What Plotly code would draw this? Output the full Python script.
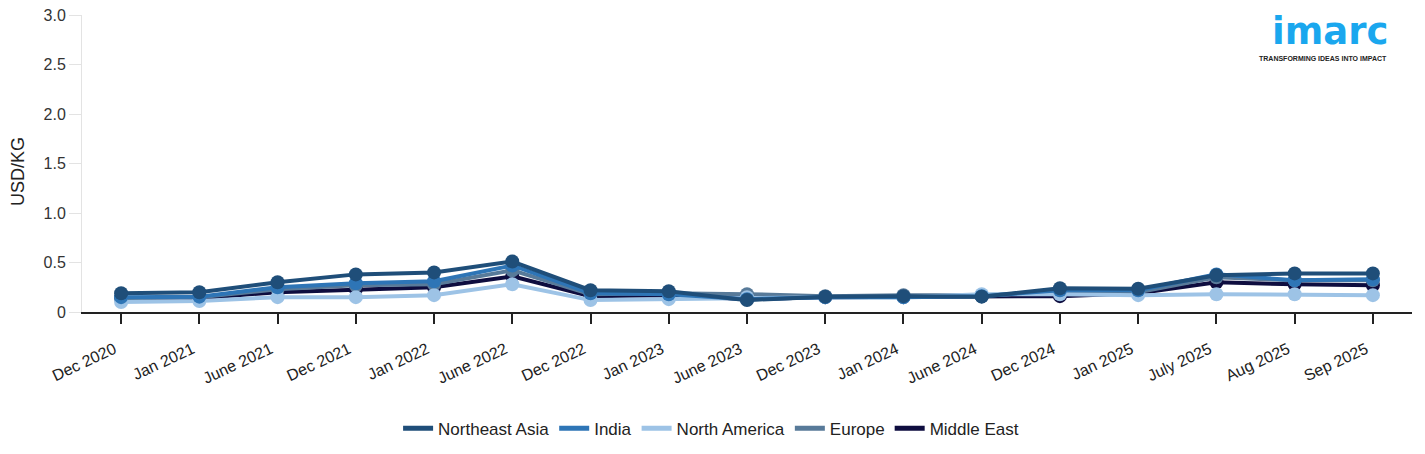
import plotly.graph_objects as go

categories = ["Dec 2020", "Jan 2021", "June 2021", "Dec 2021", "Jan 2022", "June 2022",
              "Dec 2022", "Jan 2023", "June 2023", "Dec 2023", "Jan 2024", "June 2024",
              "Dec 2024", "Jan 2025", "July 2025", "Aug 2025", "Sep 2025"]

northeast_asia = [0.19, 0.20, 0.30, 0.38, 0.40, 0.51, 0.22, 0.21, 0.12, 0.155, 0.16, 0.155, 0.24, 0.235, 0.37, 0.39, 0.39]
india          = [0.15, 0.155, 0.25, 0.29, 0.31, 0.47, 0.19, 0.18, 0.13, 0.15, 0.15, 0.16, 0.22, 0.22, 0.38, 0.32, 0.33]
north_america  = [0.10, 0.11, 0.15, 0.15, 0.17, 0.28, 0.12, 0.13, 0.15, 0.15, 0.15, 0.18, 0.18, 0.17, 0.18, 0.18, 0.17]
europe         = [0.14, 0.15, 0.23, 0.27, 0.28, 0.42, 0.18, 0.19, 0.18, 0.16, 0.17, 0.17, 0.20, 0.20, 0.35, 0.32, 0.32]
middle_east    = [0.14, 0.14, 0.20, 0.23, 0.25, 0.36, 0.16, 0.17, 0.13, 0.15, 0.15, 0.16, 0.16, 0.19, 0.30, 0.28, 0.27]

series = [
    ("Northeast Asia", northeast_asia, "#1f4e79"),
    ("India", india, "#2e75b6"),
    ("North America", north_america, "#9dc3e6"),
    ("Europe", europe, "#587a99"),
    ("Middle East", middle_east, "#0e0d3f"),
]

y_tickvals = [0, 0.5, 1.0, 1.5, 2.0, 2.5, 3.0]
y_ticktext = ["0", "0.5", "1.0", "1.5", "2.0", "2.5", "3.0"]

fig = go.Figure()
# data traces drawn in reverse order so Northeast Asia is on top
for name, vals, color in reversed(series):
    fig.add_trace(go.Scatter(
        x=categories, y=vals, name=name, mode="lines+markers",
        line=dict(color=color, width=4),
        marker=dict(color=color, size=14),
        showlegend=False, legendgroup=name,
    ))
# legend-only entries (line symbol only)
for name, vals, color in series:
    fig.add_trace(go.Scatter(
        x=[categories[0]], y=[None], name=name, mode="lines",
        line=dict(color=color, width=5), legendgroup=name, showlegend=True,
    ))

# the page body adds an 8px margin, so the figure is 8px smaller than the window
fig.update_layout(
    width=1417, height=446,
    margin=dict(l=74, r=13, t=7, b=139),
    paper_bgcolor="white", plot_bgcolor="white",
    font=dict(family="Liberation Sans, Arial, sans-serif", color="#333333"),
    showlegend=True,
    legend=dict(orientation="h", x=0.473, xanchor="center",
                y=-0.393, yanchor="middle",
                font=dict(size=17, color="#222222"), itemwidth=30, traceorder="normal",
                tracegroupgap=0),
    xaxis=dict(
        type="category", categoryarray=categories, categoryorder="array",
        range=[-0.5, len(categories) - 0.5],
        showgrid=False, showline=True, linecolor="#222222", linewidth=2,
        ticks="outside", ticklen=10, tickcolor="#222222", tickwidth=1.5, tickangle=-25,
        tickfont=dict(size=16, color="#222222"), zeroline=False, automargin=False,
        ticklabeloverflow="allow", ticklabelstandoff=10, ticklabelshift=-7,
    ),
    yaxis=dict(
        range=[0, 3.0], tickvals=y_tickvals, ticktext=y_ticktext,
        showgrid=False, showline=True, linecolor="#e3e3e3", linewidth=1,
        ticks="outside", ticklen=12, tickcolor="#e3e3e3",
        tickfont=dict(size=16, color="#333333"), zeroline=False, automargin=False,
        ticklabeloverflow="allow",
    ),
)

fig.add_annotation(xref="paper", yref="paper", x=0, y=0.471, xanchor="center", yanchor="middle",
                   xshift=-64, text="USD/KG", textangle=-90, showarrow=False,
                   font=dict(size=18, color="#222222"))

fig.add_annotation(xref="paper", yref="paper", x=1.0, y=1.0, xanchor="right", yanchor="top",
                   xshift=-22, yshift=7,
                   text="<b>imarc</b>", showarrow=False,
                   font=dict(family="DejaVu Sans, sans-serif", size=37, color="#1aa7ee"))
fig.add_annotation(xref="paper", yref="paper", x=1.0, y=1.0, xanchor="right", yanchor="top",
                   xshift=-23, yshift=-38,
                   text="<b>TRANSFORMING IDEAS INTO IMPACT</b>", showarrow=False,
                   font=dict(family="Liberation Sans, Arial, sans-serif", size=7, color="#222222"))

fig.write_html("out.html")
